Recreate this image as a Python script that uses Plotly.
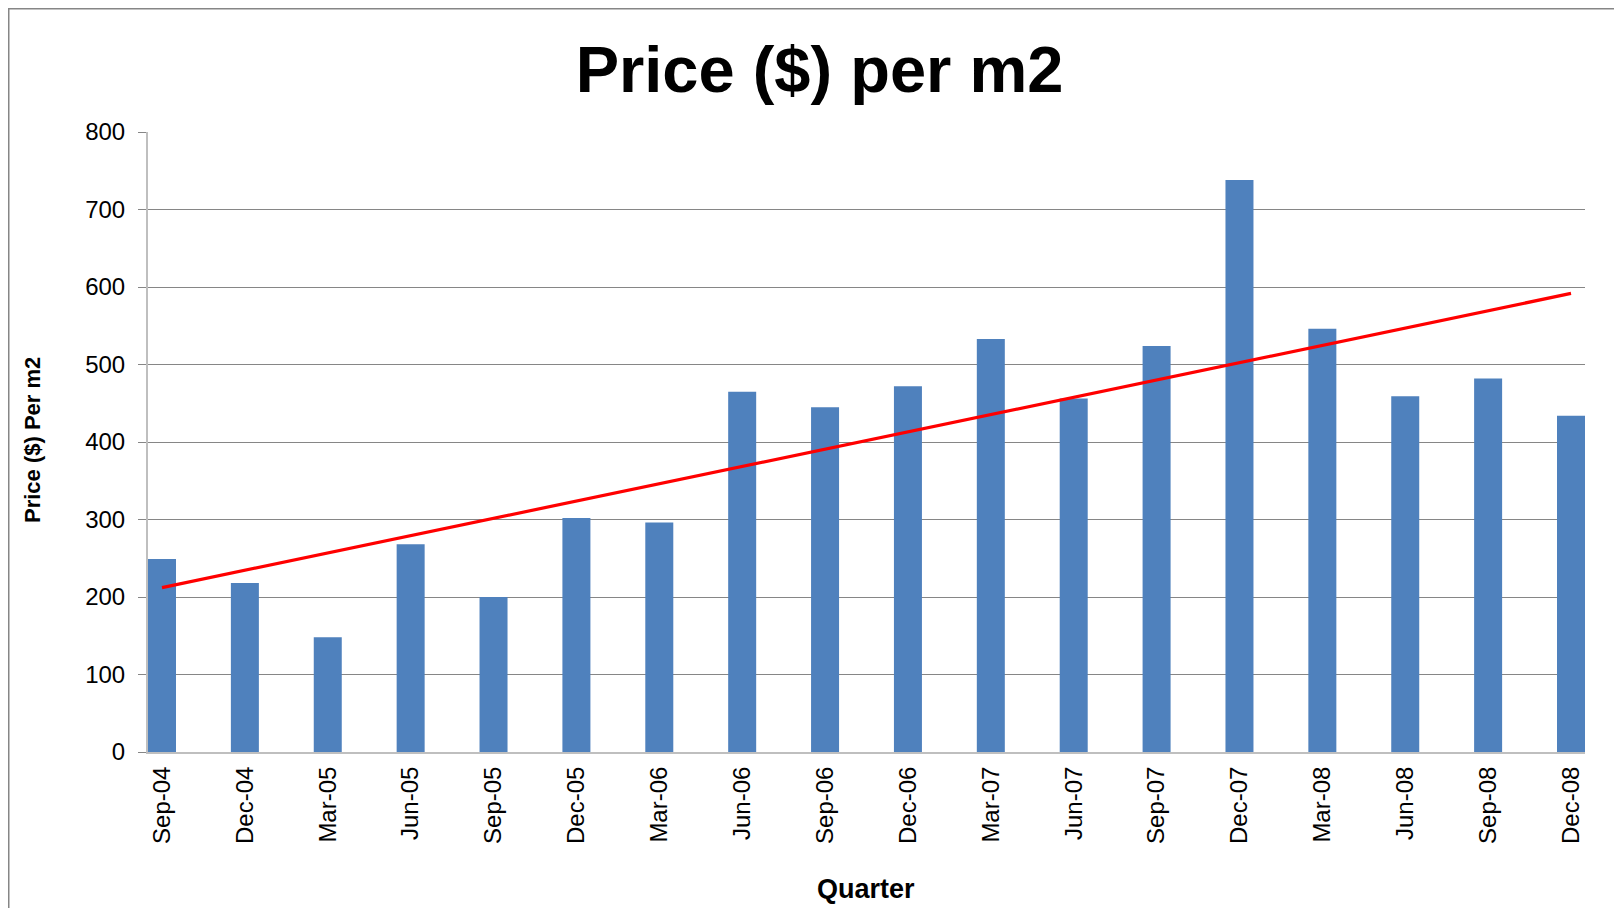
import numpy as np
import plotly.graph_objects as go

quarters = ["Sep-04", "Dec-04", "Mar-05", "Jun-05", "Sep-05", "Dec-05", "Mar-06",
            "Jun-06", "Sep-06", "Dec-06", "Mar-07", "Jun-07", "Sep-07", "Dec-07",
            "Mar-08", "Jun-08", "Sep-08", "Dec-08"]
price_per_m2 = [249, 218, 148, 268, 200, 302, 296, 465, 445, 472, 533, 456, 524, 738,
                546, 459, 482, 434]
y_ticks = [0, 100, 200, 300, 400, 500, 600, 700, 800]

x_idx = np.arange(len(quarters))
slope, intercept = np.polyfit(x_idx, price_per_m2, 1)
trend = slope * x_idx + intercept

W, H = 1622, 908
# the page body adds an 8px offset; margins are chosen so the plot lands where the reference has it
ML, MR, MT, MB = 140, 45, 124, 164
PW, PH = W - ML - MR, H - MT - MB

FONT = "Liberation Sans, Arial, sans-serif"
bar_w = 0.3378

fig = go.Figure()
fig.add_trace(go.Bar(x=x_idx, y=price_per_m2, width=bar_w,
                     marker=dict(color="#4F81BD", line=dict(width=0)),
                     name="Price ($) per m2"))
fig.add_trace(go.Scatter(x=x_idx, y=trend, mode="lines",
                         line=dict(color="#FF0000", width=3.2),
                         name="Linear trend"))

def px_x(px):
    return (px - ML) / PW

def px_y(py):
    return 1 - (py - MT) / PH

fig.update_layout(
    width=W, height=H,
    margin=dict(l=ML, r=MR, t=MT, b=MB, pad=0),
    paper_bgcolor="white", plot_bgcolor="white",
    showlegend=False,
    font=dict(family=FONT, color="black"),
    title=dict(text="<b>Price ($) per m2</b>", font=dict(size=65, family=FONT, color="black"),
               x=811.5 / W, xref="container", xanchor="center",
               y=1 - 61.6 / H, yref="container", yanchor="middle"),
    xaxis=dict(
        tickmode="array", tickvals=list(x_idx), ticktext=quarters,
        tickangle=-90, tickfont=dict(size=24, family=FONT, color="black"),
        range=[-bar_w / 2, len(quarters) - 1 + bar_w / 2],
        showgrid=False, zeroline=False,
        showline=True, linecolor="#BFBFBF", linewidth=2,
        ticks="", ticklabelstandoff=3,
        fixedrange=True,
    ),
    yaxis=dict(
        range=[0, 800], tickmode="array", tickvals=y_ticks,
        tickfont=dict(size=24, family=FONT, color="black"),
        showgrid=True, gridcolor="#868686", gridwidth=1,
        zeroline=False,
        showline=True, linecolor="#BFBFBF", linewidth=2,
        ticks="outside", ticklen=8, tickcolor="#868686", tickwidth=1,
        ticklabelstandoff=8,
        fixedrange=True,
    ),
    annotations=[
        dict(text="<b>Price ($) Per m2</b>", xref="paper", yref="paper",
             x=px_x(24), y=px_y(432), textangle=-90, showarrow=False,
             xanchor="center", yanchor="middle",
             font=dict(size=22, family=FONT, color="black")),
        dict(text="<b>Quarter</b>", xref="paper", yref="paper",
             x=px_x(858), y=px_y(881), showarrow=False,
             xanchor="center", yanchor="middle",
             font=dict(size=27, family=FONT, color="black")),
    ],
    shapes=[
        dict(type="line", xref="paper", yref="paper",
             x0=px_x(0.75), x1=px_x(0.75), y0=px_y(0), y1=px_y(H + 5),
             line=dict(color="#868686", width=1.5)),
        dict(type="line", xref="paper", yref="paper",
             x0=px_x(0), x1=px_x(W + 5), y0=px_y(0.75), y1=px_y(0.75),
             line=dict(color="#868686", width=1.5)),
    ],
)

fig.write_html("out.html")
